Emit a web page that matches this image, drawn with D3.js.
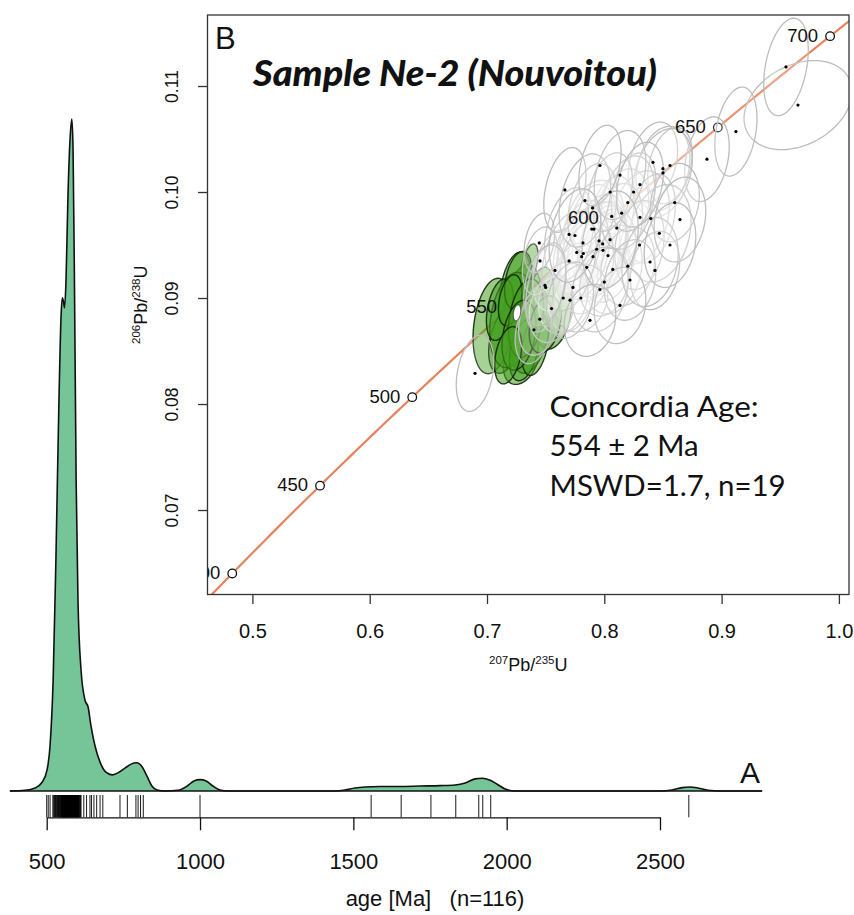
<!DOCTYPE html>
<html><head><meta charset="utf-8">
<script src="https://cdn.jsdelivr.net/npm/d3@7"></script>
<style>body{margin:0;background:#fff} svg{display:block}</style>
</head><body>
<svg id="chart" width="854" height="915"></svg>
<script>
// ---------------- DATA ----------------
// Panel A: kernel density estimate of detrital zircon ages
const kdeAge = [380,429,462,485,501,511,521,530,540,547,551,555,558,563,569,576,582,586,591,596,602,612,625,635,644,657,674,693,713,732,755,775,794,811,827,843,860,886,928,958,980,1000,1020,1042,1065,1091,1440,1473,1505,1538,1587,1652,1718,1783,1832,1865,1897,1920,1946,1969,1995,2028,2500,2539,2572,2598,2624,2657,2696,2833];
const kdeDensity = [0,0.001,0.0045,0.013,0.031,0.068,0.165,0.344,0.582,0.708,0.734,0.728,0.719,0.760,0.879,0.969,1.0,0.954,0.731,0.463,0.284,0.180,0.135,0.125,0.098,0.068,0.043,0.028,0.024,0.027,0.034,0.040,0.042,0.036,0.022,0.0074,0.0015,0,0.001,0.0074,0.015,0.017,0.015,0.0074,0.0015,0,0,0.0015,0.0045,0.006,0.0067,0.0067,0.0074,0.008,0.009,0.012,0.018,0.019,0.016,0.010,0.003,0,0,0.0015,0.005,0.006,0.0045,0.001,0,0];
// rug of individual ages (Ma)
const rugAges = [500,505,511,520,523,525,527,529,531,533,535,537,538,540,541,543,544,546,547,548,549,550,551,552,553,554,555,556,557,558,559,560,561,562,563,564,565,566,567,568,569,570,571,572,573,574,575,576,577,578,579,580,581,582,583,584,585,586,587,588,589,590,591,592,593,594,595,596,597,598,599,600,601,602,603,604,605,606,608,610,612,553,555,557,559,561,563,565,567,569,621,630,641,646,654,663,674,683,739,763,791,798,806,815,1000,1558,1656,1753,1834,1909,1922,1948,2594];
const kdeTicks = [500,1000,1500,2000,2500];
const kdeTitle = "age [Ma]   (n=116)";
const kdeLetter = "A";

// Panel B: concordia diagram
const concordiaAges = [400,450,500,550,600,650,700];   // labelled markers (Ma)
const lambda235 = 9.8485e-4, lambda238 = 1.55125e-4;   // decay constants (1/Ma)
const xTicks = [0.5,0.6,0.7,0.8,0.9,1.0];
const yTicks = [0.07,0.08,0.09,0.10,0.11];
const xLimits = [0.46172, 1.00861];
const yLimits = [0.06203, 0.11670];
// ellipses: [207Pb/235U, 206Pb/238U, half-width x, half-height y, correlation]
const grayEllipses = [
 [0.9651,0.1082,0.046,0.0042,0.3],[0.9549,0.1118,0.019,0.0046,0.35],[0.9122,0.1057,0.018,0.0042,0.3],
 [0.8875,0.1031,0.019,0.0040,0.3],[0.8415,0.1028,0.021,0.0038,0.3],[0.8500,0.1022,0.023,0.0040,0.25],
 [0.8560,0.1025,0.019,0.0036,0.3],[0.8500,0.1018,0.025,0.0042,0.3],[0.8148,0.0980,0.023,0.0042,0.3],
 [0.8304,0.0976,0.025,0.0044,0.25],[0.8396,0.0975,0.021,0.0042,0.3],[0.8469,0.0961,0.027,0.0046,0.25],
 [0.8063,0.0977,0.019,0.0038,0.3],[0.8106,0.0966,0.022,0.0042,0.3],[0.7893,0.0965,0.021,0.0042,0.3],
 [0.7912,0.0965,0.026,0.0046,0.25],[0.7955,0.0954,0.023,0.0044,0.3],[0.7818,0.0952,0.021,0.0040,0.3],
 [0.7935,0.0946,0.025,0.0045,0.25],[0.7989,0.0945,0.021,0.0042,0.3],[0.7904,0.0939,0.023,0.0042,0.3],
 [0.7807,0.0939,0.019,0.0038,0.35],[0.8032,0.0940,0.024,0.0044,0.25],[0.8072,0.0927,0.025,0.0042,0.2],
 [0.7580,0.0926,0.019,0.0038,0.3],[0.7733,0.0910,0.021,0.0042,0.3],[0.7986,0.0951,0.020,0.0040,0.3],
 [0.7821,0.0942,0.022,0.0043,0.3],[0.7765,0.0943,0.020,0.0039,0.35],[0.7850,0.0929,0.023,0.0044,0.25],
 [0.6898,0.0829,0.016,0.0036,0.3],[0.7452,0.0935,0.015,0.0032,0.3],[0.7700,0.0960,0.021,0.0044,0.3],
 [0.8200,0.0930,0.023,0.0037,0.2],[0.8300,0.0950,0.021,0.0042,0.2],[0.7650,0.0900,0.021,0.0034,0.2],
 [0.7550,0.0890,0.019,0.0032,0.2],[0.7450,0.0880,0.018,0.0034,0.3],[0.7800,0.0900,0.023,0.0032,0.15],
 [0.8000,0.0915,0.021,0.0032,0.2],[0.7700,0.0935,0.023,0.0047,0.3],[0.8200,0.0990,0.023,0.0044,0.3],
 [0.8250,0.1000,0.019,0.0037,0.3],[0.8600,0.0990,0.021,0.0037,0.2],[0.7500,0.0910,0.017,0.0042,0.4],
 [0.7400,0.0870,0.016,0.0032,0.3],[0.7900,0.0985,0.021,0.0042,0.3],[0.8050,0.1000,0.019,0.0037,0.3],
 [0.7446,0.0952,0.013,0.0028,0.3],[0.8432,0.0926,0.021,0.0037,0.2],
 [0.7963,0.0908,0.024,0.0040,0.2],[0.8219,0.0917,0.022,0.0038,0.2],[0.8390,0.0934,0.024,0.0042,0.2],
 [0.7708,0.0898,0.020,0.0036,0.25],[0.7664,0.1002,0.018,0.0040,0.35],[0.7835,0.0992,0.022,0.0044,0.3],
 [0.8134,0.1016,0.022,0.0042,0.3],[0.8304,0.1007,0.020,0.0040,0.3],[0.7963,0.1025,0.018,0.0038,0.35],
 [0.8645,0.0974,0.022,0.0040,0.2],[0.8560,0.0950,0.022,0.0040,0.2],[0.8134,0.0893,0.022,0.0036,0.15],
 [0.7494,0.0912,0.018,0.0038,0.3],[0.7878,0.0879,0.022,0.0034,0.15],[0.8049,0.0955,0.024,0.0046,0.25],
 [0.7750,0.0959,0.022,0.0044,0.3]
];
const greenEllipses = [
 [0.7051,0.08736,0.0170,0.0045,0.25],[0.7562,0.08858,0.0160,0.0034,0.25],[0.7359,0.09311,0.0075,0.0020,0.5],
 [0.7299,0.08934,0.0160,0.0038,0.3],[0.7290,0.08415,0.0150,0.0023,0.3],[0.7154,0.0860,0.0140,0.0031,0.35],
 [0.7239,0.09075,0.0135,0.0036,0.35],[0.7367,0.0870,0.0170,0.0041,0.3],[0.7213,0.08792,0.0190,0.0045,0.25],
 [0.7452,0.0898,0.0115,0.0031,0.35],[0.7316,0.0851,0.0125,0.0029,0.35],[0.7110,0.0889,0.0115,0.0029,0.35],
 [0.7265,0.0917,0.0115,0.0027,0.35],[0.7410,0.0856,0.0115,0.0029,0.35],[0.7197,0.0898,0.0100,0.0024,0.35],
 [0.7333,0.0881,0.0150,0.0037,0.3],[0.7273,0.0865,0.0145,0.0033,0.3],[0.7495,0.0875,0.0135,0.0027,0.3],
 [0.7180,0.0846,0.0115,0.0027,0.35]
];
const concordiaAgeEllipse = [0.7256,0.0886,0.0032,0.00075,0.3];
const panelLetter = "B";
const sampleTitle = "Sample Ne-2 (Nouvoitou)";
const resultLines = ["Concordia Age:", "554 \u00b1 2 Ma", "MSWD=1.7, n=19"];

// ---------------- DRAWING ----------------
const svg = d3.select("#chart");
const helv = "'Liberation Sans', Arial, Helvetica, sans-serif";
const myriad = "Lato, 'Open Sans', 'Noto Sans', sans-serif";

// ===== Panel A =====
const baseY = 791;
const xAge = d3.scaleLinear().domain([500,2500]).range([46.7,660]);
const yDen = d3.scaleLinear().domain([0,1]).range([baseY,119]);
const kde = kdeAge.map((a,i)=>({a, d:kdeDensity[i]}));
const gA = svg.append("g");
gA.append("path").datum(kde)
  .attr("d", d3.area().x(p=>xAge(p.a)).y0(baseY).y1(p=>yDen(p.d)).curve(d3.curveMonotoneX))
  .attr("fill","#76c598").attr("stroke","none");
gA.append("path").datum(kde)
  .attr("d", d3.line().x(p=>xAge(p.a)).y(p=>yDen(p.d)).curve(d3.curveMonotoneX))
  .attr("fill","none").attr("stroke","#111").attr("stroke-width",1.6);
gA.append("line").attr("x1",xAge(kdeAge[0])).attr("x2",xAge(kdeAge[kdeAge.length-1]))
  .attr("y1",baseY).attr("y2",baseY).attr("stroke","#111").attr("stroke-width",1.6);
const axisY = 817.3;
gA.append("g").selectAll("line").data(rugAges).join("line")
  .attr("x1",d=>xAge(d)).attr("x2",d=>xAge(d)).attr("y1",baseY+4).attr("y2",axisY)
  .attr("stroke","#000").attr("stroke-width",0.9);
const axA = gA.append("g").attr("transform",`translate(0,${axisY})`)
  .call(d3.axisBottom(xAge).tickValues(kdeTicks).tickSize(13).tickSizeOuter(0).tickFormat(d3.format("d")));
axA.select(".domain").attr("stroke","#111").attr("stroke-width",1.3);
axA.selectAll(".tick line").attr("stroke","#111").attr("stroke-width",1.3);
axA.selectAll(".tick text").attr("y",51.7).attr("dy",0).attr("font-size",22)
  .attr("font-family",helv).attr("fill","#111");
gA.append("text").attr("x",435).attr("y",906).attr("text-anchor","middle")
  .style("white-space","pre").attr("font-family",helv).attr("font-size",22).attr("fill","#111")
  .text(kdeTitle);
gA.append("text").attr("x",740).attr("y",783).attr("font-family",helv).attr("font-size",30)
  .attr("fill","#111").text(kdeLetter);

// ===== Panel B =====
const F = {left:207.5, right:849, top:15, bottom:594.5};
const xS = d3.scaleLinear().domain(xLimits).range([F.left,F.right]);
const yS = d3.scaleLinear().domain(yLimits).range([F.bottom,F.top]);
const gB = svg.append("g");
gB.append("rect").attr("x",F.left).attr("y",F.top).attr("width",F.right-F.left)
  .attr("height",F.bottom-F.top).attr("fill","#fff");
svg.append("defs").append("clipPath").attr("id","clipB").append("rect")
  .attr("x",F.left).attr("y",F.top).attr("width",F.right-F.left).attr("height",F.bottom-F.top);
const plot = gB.append("g").attr("clip-path","url(#clipB)");

const conc = t => [Math.exp(lambda235*t)-1, Math.exp(lambda238*t)-1];
const curveAges = d3.range(370, 760, 2);
plot.append("path").datum(curveAges.map(conc))
  .attr("d", d3.line().x(p=>xS(p[0])).y(p=>yS(p[1])))
  .attr("fill","none").attr("stroke","#e8825c").attr("stroke-width",2.2);
plot.selectAll("circle.mk").data(concordiaAges).join("circle").attr("class","mk")
  .attr("cx",t=>xS(conc(t)[0])).attr("cy",t=>yS(conc(t)[1])).attr("r",4.3)
  .attr("fill","#fff").attr("stroke","#111").attr("stroke-width",1.3);

function ellPath(e){
  const [x,y,a,b,r] = e, s = Math.sqrt(1-r*r);
  const pts = d3.range(0,360,4).map(deg=>{const t=deg*Math.PI/180;
    return [xS(x+a*Math.cos(t)), yS(y+b*(r*Math.cos(t)+s*Math.sin(t)))];});
  return d3.line().curve(d3.curveLinearClosed)(pts);
}
plot.append("g").selectAll("path").data(greenEllipses).join("path")
  .attr("d",ellPath).attr("fill","#46a020").attr("fill-opacity",0.55)
  .attr("stroke","#132609").attr("stroke-width",1.4).attr("stroke-opacity",0.9);
plot.append("g").selectAll("path").data(grayEllipses).join("path")
  .attr("d",ellPath).attr("fill","#fff").attr("fill-opacity",0.14)
  .attr("stroke","#bdbdbd").attr("stroke-width",1.3);
plot.append("g").selectAll("circle").data(grayEllipses).join("circle")
  .attr("cx",e=>xS(e[0])).attr("cy",e=>yS(e[1])).attr("r",1.6).attr("fill","#000");
plot.append("path").datum(concordiaAgeEllipse).attr("d",ellPath)
  .attr("fill","#fff").attr("stroke","#222").attr("stroke-width",0.8);
plot.selectAll("text.mk").data(concordiaAges).join("text").attr("class","mk")
  .attr("x",t=>xS(conc(t)[0])-12).attr("y",t=>yS(conc(t)[1])+5.5)
  .attr("text-anchor","end").attr("font-family",helv).attr("font-size",18.5).attr("fill","#111")
  .text(t=>t);

// frame
gB.append("rect").attr("x",F.left).attr("y",F.top).attr("width",F.right-F.left)
  .attr("height",F.bottom-F.top).attr("fill","none").attr("stroke","#333").attr("stroke-width",1.3);
// axes
const axX = gB.append("g").attr("transform",`translate(0,${F.bottom})`)
  .call(d3.axisBottom(xS).tickValues(xTicks).tickSize(9.5).tickSizeOuter(0).tickFormat(d3.format(".1f")));
axX.select(".domain").remove();
axX.selectAll(".tick line").attr("stroke","#333").attr("stroke-width",1.3);
axX.selectAll(".tick text").attr("y",43).attr("dy",0).style("font-size","20px")
  .attr("font-family",helv).attr("fill","#111");
const axY = gB.append("g").attr("transform",`translate(${F.left},0)`)
  .call(d3.axisLeft(yS).tickValues(yTicks).tickSize(9.5).tickSizeOuter(0).tickFormat(d3.format(".2f")));
axY.select(".domain").remove();
axY.selectAll(".tick line").attr("stroke","#333").attr("stroke-width",1.3);
axY.selectAll(".tick text").attr("x",0).attr("y",-30).attr("dy",0).attr("transform","rotate(-90)")
  .attr("text-anchor","middle").style("font-size","17.5px").attr("font-family",helv).attr("fill","#111");

// axis titles with isotopes
function isoTitle(sel, a, b){
  sel.append("tspan").attr("font-size",11.5).attr("dy",-7).text(a);
  sel.append("tspan").attr("font-size",18).attr("dy",7).text("Pb/");
  sel.append("tspan").attr("font-size",11.5).attr("dy",-7).text(b);
  sel.append("tspan").attr("font-size",18).attr("dy",7).text("U");
}
const xt = gB.append("text").attr("x",(F.left+F.right)/2).attr("y",671).attr("text-anchor","middle")
  .attr("font-family",helv).attr("fill","#111");
isoTitle(xt,"207","235");
const yt = gB.append("text").attr("transform",`translate(147,${(F.top+F.bottom)/2}) rotate(-90)`)
  .attr("text-anchor","middle").attr("font-family",helv).attr("fill","#111");
isoTitle(yt,"206","238");

gB.append("text").attr("x",215).attr("y",49).attr("font-family",helv).attr("font-size",31)
  .attr("fill","#111").text(panelLetter);
gB.append("text").attr("x",253).attr("y",85.5).attr("font-family",myriad).attr("font-size",36)
  .attr("font-weight",900).attr("font-style","italic").attr("fill","#111")
  .attr("textLength",404).attr("lengthAdjust","spacingAndGlyphs").text(sampleTitle);
const resW = [209,149,236];
gB.selectAll("text.res").data(resultLines).join("text").attr("class","res")
  .attr("x",549.6).attr("y",(d,i)=>416.7+i*39.7).attr("font-family",myriad).attr("font-size",28)
  .attr("fill","#111").attr("textLength",(d,i)=>resW[i]).attr("lengthAdjust","spacingAndGlyphs")
  .text(d=>d);
</script></body></html>
